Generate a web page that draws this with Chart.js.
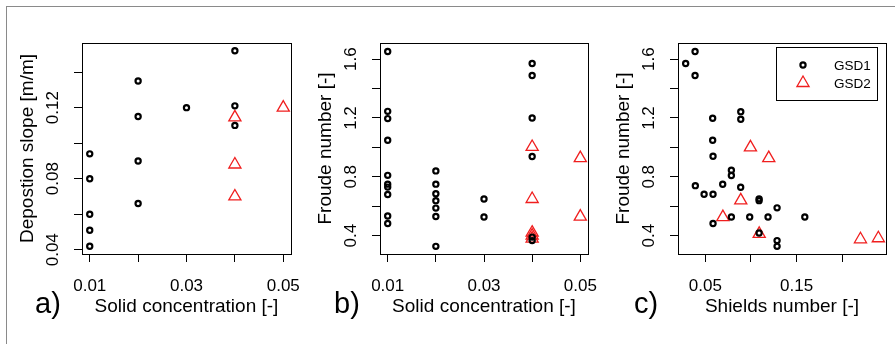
<!DOCTYPE html>
<html><head><meta charset="utf-8">
<script src="https://cdn.jsdelivr.net/npm/chart.js@4/dist/chart.umd.min.js"></script>
<style>
html,body{margin:0;padding:0;background:#fff;}
#wrap{position:relative;width:895px;height:344px;overflow:hidden;font-family:"Liberation Sans",Arial,sans-serif;}
canvas{position:absolute;top:0;}
.frame{position:absolute;left:6px;top:6px;width:900px;height:400px;border-top:1px solid #8a8a8a;border-left:1px solid #8a8a8a;}
.lab{position:absolute;font-size:29px;line-height:29px;color:#000;white-space:nowrap;}
</style></head><body>
<div id="wrap">
<div class="frame"></div>
<canvas id="ca" width="310" height="344" style="left:0px"></canvas>
<canvas id="cb" width="310" height="344" style="left:298px"></canvas>
<canvas id="cc" width="299" height="344" style="left:596px"></canvas>
<div class="lab" style="left:35px;top:289px">a)</div>
<div class="lab" style="left:334px;top:289px">b)</div>
<div class="lab" style="left:634px;top:289px">c)</div>
</div>
<script>
// ---------- data ----------
const seriesNames = ['GSD1', 'GSD2'];

// Panel a: solid concentration vs deposition slope
const aGsd1X = [0.01,0.01,0.01,0.01,0.01, 0.02,0.02,0.02,0.02, 0.03, 0.04,0.04,0.04];
const aGsd1Y = [0.094,0.080,0.060,0.051,0.042, 0.135,0.115,0.090,0.066, 0.120, 0.152,0.121,0.110];
const aGsd2X = [0.04,0.04,0.04,0.05];
const aGsd2Y = [0.1145,0.088,0.070,0.120];

// Panel b: solid concentration vs Froude number
const bGsd1X = [0.01,0.01,0.01,0.01,0.01,0.01,0.01,0.01,0.01,0.01,
                0.02,0.02,0.02,0.02,0.02,0.02,0.02,
                0.03,0.03,
                0.04,0.04,0.04,0.04,0.04,0.04];
const bGsd1Y = [1.652,1.245,1.196,1.049,0.81,0.75,0.73,0.68,0.533,0.482,
                0.84,0.75,0.685,0.638,0.587,0.53,0.327,
                0.649,0.527,
                1.571,1.489,1.2,0.938,0.39,0.366];
const bGsd2X = [0.04,0.04,0.04,0.04,0.04,0.05,0.05];
const bGsd2Y = [1.003,0.649,0.42,0.40,0.38,0.927,0.529];

// Panel c: Shields number vs Froude number
const cGsd1X = [0.0284,0.0387,0.0387,0.039,0.0486,0.0584,0.0584,0.0584,0.058,0.058,
                0.069,0.0785,0.0785,0.0785,0.0888,0.0888,0.0887,0.0986,0.1089,0.1089,
                0.1089,0.1187,0.1286,0.1286,0.1286,0.159];
const cGsd1Y = [1.571,1.652,1.489,0.74,0.681,0.681,0.94,0.482,1.198,1.049,
                0.749,0.845,0.809,0.527,1.243,1.191,0.729,0.527,0.65,0.638,
                0.418,0.527,0.589,0.366,0.327,0.527];
const cGsd2X = [0.0994,0.1195,0.0888,0.0692,0.109,0.22,0.2396];
const cGsd2Y = [1.0,0.927,0.64,0.526,0.412,0.375,0.382];

// ticks
const concTicks = [0.01,0.02,0.03,0.04,0.05];
const concLabels = ['0.01','','0.03','','0.05'];
const slopeTicks = [0.04,0.06,0.08,0.10,0.12,0.14];
const slopeLabels = ['0.04','','0.08','','0.12',''];
const froudeTicks = [0.4,0.6,0.8,1.0,1.2,1.4,1.6];
const froudeLabels = ['0.4','','0.8','','1.2','','1.6'];
const shieldsTicks = [0.05,0.10,0.15,0.20];
const shieldsLabels = ['0.05','','0.15',''];

// axis titles
const titleConc = 'Solid concentration [-]';
const titleSlope = 'Depostion slope [m/m]';
const titleFroude = 'Froude number [-]';
const titleShields = 'Shields number [-]';

// ---------- rendering ----------
const FONT = '"Liberation Sans", Arial, sans-serif';
const BLACK = '#000000';
const RED = '#f01e1e';

function pts(xs, ys){ return xs.map((x,i)=>({x:x, y:ys[i]})); }

function ds(name, xs, ys){
  const isTri = name === 'GSD2';
  return {
    label: name,
    data: pts(xs, ys),
    showLine: false,
    pointStyle: isTri ? 'triangle' : 'circle',
    pointRadius: isTri ? 7 : 2.6,
    pointHoverRadius: isTri ? 7 : 2.6,
    borderWidth: isTri ? 1.3 : 2.2,
    pointBorderWidth: isTri ? 1.3 : 2.2,
    borderColor: isTri ? RED : BLACK,
    pointBorderColor: isTri ? RED : BLACK,
    backgroundColor: 'rgba(0,0,0,0)',
    pointBackgroundColor: 'rgba(0,0,0,0)',
    clip: false
  };
}

const boxPlugin = {
  id: 'rbox',
  beforeDatasetsDraw(chart){
    const a = chart.chartArea, ctx = chart.ctx;
    ctx.save();
    ctx.strokeStyle = BLACK; ctx.lineWidth = 1;
    ctx.strokeRect(Math.round(a.left)+0.5, Math.round(a.top)+0.5, Math.round(a.right-a.left), Math.round(a.bottom-a.top));
    ctx.restore();
  }
};

function drawSym(ctx, d, x, y){
  const opts = {pointStyle: d.pointStyle, radius: d.pointRadius, borderWidth: d.pointBorderWidth, rotation: 0};
  ctx.save();
  ctx.strokeStyle = d.pointBorderColor; ctx.fillStyle = 'rgba(0,0,0,0)';
  ctx.lineWidth = d.pointBorderWidth;
  if (Chart.helpers && Chart.helpers.drawPoint) {
    Chart.helpers.drawPoint(ctx, opts, x, y);
  } else {
    ctx.beginPath();
    if (d.pointStyle === 'triangle') {
      const r = d.pointRadius;
      ctx.moveTo(x, y - r);
      ctx.lineTo(x + r*Math.sin(2*Math.PI/3), y - r*Math.cos(2*Math.PI/3));
      ctx.lineTo(x + r*Math.sin(4*Math.PI/3), y - r*Math.cos(4*Math.PI/3));
      ctx.closePath();
    } else {
      ctx.arc(x, y, d.pointRadius, 0, Math.PI*2);
    }
    ctx.stroke();
  }
  ctx.restore();
}

const legendPlugin = {
  id: 'rlegend',
  afterDraw(chart, args, o){
    if (!o || !o.show) return;
    const ctx = chart.ctx;
    const bx = 180.5, by = 47.5, bw = 101, bh = 53;
    ctx.save();
    ctx.strokeStyle = BLACK; ctx.lineWidth = 1;
    ctx.strokeRect(bx, by, bw, bh);
    ctx.font = '13.5px ' + FONT;
    ctx.fillStyle = BLACK;
    ctx.textAlign = 'left'; ctx.textBaseline = 'alphabetic';
    chart.data.datasets.forEach((d, i) => {
      const cy = 65 + i*18;
      drawSym(ctx, d, 207, cy);
      ctx.fillText(d.label, 238, cy + 4.5);
    });
    ctx.restore();
  }
};

function xScale(min, max, ticks, labels, title){
  return {
    type: 'linear', position: 'bottom', min: min, max: max,
    afterBuildTicks(s){ s.ticks = ticks.map(v => ({value: v})); },
    afterFit(s){ s.height = 90; s.paddingLeft = 0; s.paddingRight = 0; },
    ticks: {
      autoSkip: false, minRotation: 0, maxRotation: 0, padding: 14,
      color: BLACK, font: {family: FONT, size: 17},
      callback: (v, i) => labels[i]
    },
    grid: {display: true, drawOnChartArea: false, drawTicks: true, tickLength: 8, color: BLACK, lineWidth: 1},
    border: {display: true, color: BLACK, width: 1},
    title: {display: true, text: title, color: BLACK, font: {family: FONT, size: 19}, padding: {top: 0, bottom: 26}}
  };
}

function yScale(min, max, ticks, labels, title, pad){
  return {
    type: 'linear', position: 'left', min: min, max: max,
    afterBuildTicks(s){ s.ticks = ticks.map(v => ({value: v})); },
    afterFit(s){ s.width = 82; s.paddingTop = 0; s.paddingBottom = 0; },
    ticks: {
      autoSkip: false, minRotation: 90, maxRotation: 90, crossAlign: 'center', padding: pad,
      color: BLACK, font: {family: FONT, size: 17},
      callback: (v, i) => labels[i]
    },
    grid: {display: true, drawOnChartArea: false, drawTicks: true, tickLength: 8, color: BLACK, lineWidth: 1},
    border: {display: true, color: BLACK, width: 1},
    title: {display: true, text: title, color: BLACK, font: {family: FONT, size: 19}, padding: {top: 16.3, bottom: 0}}
  };
}

function makeChart(id, datasets, xs, ys, rightPad, legend){
  return new Chart(document.getElementById(id), {
    type: 'scatter',
    data: {datasets: datasets},
    options: {
      responsive: false, animation: false, events: [],
      layout: {padding: {left: 0, top: 43, right: rightPad, bottom: 0}},
      plugins: {legend: {display: false}, tooltip: {enabled: false}, rlegend: {show: legend}},
      scales: {x: xs, y: ys}
    },
    plugins: [boxPlugin, legendPlugin]
  });
}

makeChart('ca',
  [ds(seriesNames[0], aGsd1X, aGsd1Y), ds(seriesNames[1], aGsd2X, aGsd2Y)],
  xScale(0.0084, 0.0516, concTicks, concLabels, titleConc),
  yScale(0.0376, 0.1564, slopeTicks, slopeLabels, titleSlope, 4.5),
  19, false);

makeChart('cb',
  [ds(seriesNames[0], bGsd1X, bGsd1Y), ds(seriesNames[1], bGsd2X, bGsd2Y)],
  xScale(0.0084, 0.0516, concTicks, concLabels, titleConc),
  yScale(0.275, 1.71, froudeTicks, froudeLabels, titleFroude, 9.2),
  20, false);

makeChart('cc',
  [ds(seriesNames[0], cGsd1X, cGsd1Y), ds(seriesNames[1], cGsd2X, cGsd2Y)],
  xScale(0.020, 0.248, shieldsTicks, shieldsLabels, titleShields),
  yScale(0.275, 1.71, froudeTicks, froudeLabels, titleFroude, 9.2),
  9, true);
</script>
</body></html>
